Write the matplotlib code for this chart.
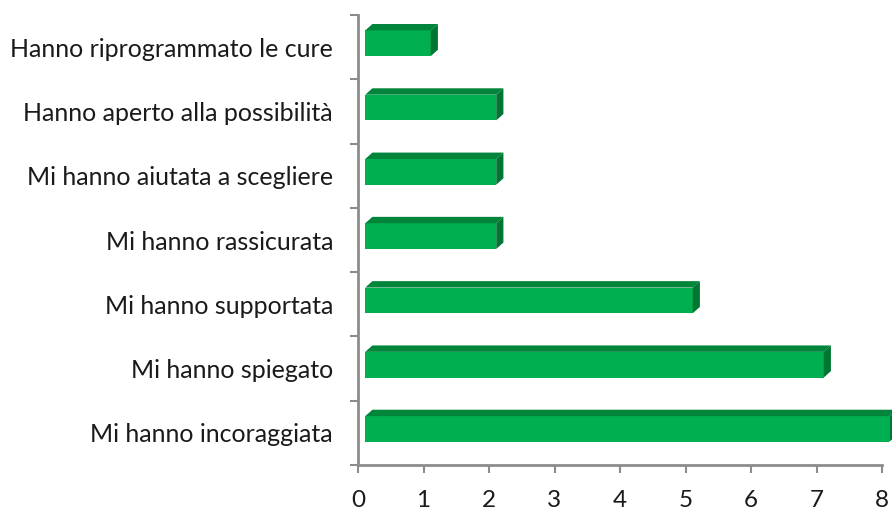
import matplotlib

matplotlib.use("Agg")
import matplotlib.pyplot as plt
from matplotlib.patches import Polygon

# data, top to bottom as in the chart
labels = [
    "Hanno riprogrammato le cure",
    "Hanno aperto alla possibilità",
    "Mi hanno aiutata a scegliere",
    "Mi hanno rassicurata",
    "Mi hanno supportata",
    "Mi hanno spiegato",
    "Mi hanno incoraggiata",
]
values = [1, 2, 2, 2, 5, 7, 8]

# pseudo-3D bar geometry (data units)
DX = 0.11      # horizontal offset of front face / depth
DY = 0.10      # vertical depth
Y0, Y1 = -0.14, 0.26   # front face span relative to category centre

FRONT = "#00b050"
TOP = "#00853b"
SIDE = "#007632"
AXIS = "#8c8c8c"

plt.rcParams["font.family"] = ["Lato", "DejaVu Sans"]

fig = plt.figure(figsize=(8.92, 5.12), dpi=100)
ax = fig.add_axes([358 / 892, 1 - 465 / 512, (882 - 358) / 892, (465 - 15) / 512])

n = len(labels)
for i, (lab, v) in enumerate(zip(labels[::-1], values[::-1])):
    y0, y1 = i + Y0, i + Y1
    x0, x1 = DX, v + DX
    front = Polygon([(x0, y0), (x1, y0), (x1, y1), (x0, y1)],
                    closed=True, fc=FRONT, ec="none", clip_on=False, zorder=3)
    top = Polygon([(x0, y1), (x1, y1), (x1 + DX, y1 + DY), (x0 + DX, y1 + DY)],
                  closed=True, fc=TOP, ec="none", clip_on=False, zorder=3)
    side = Polygon([(x1, y0), (x1 + DX, y0 + DY), (x1 + DX, y1 + DY), (x1, y1)],
                   closed=True, fc=SIDE, ec="none", clip_on=False, zorder=3)
    for p in (front, top, side):
        ax.add_patch(p)

ax.set_xlim(0, 8)
ax.set_ylim(-0.5, n - 0.5)
ax.set_xticks(range(0, 9))
ax.set_yticks([i - 0.5 for i in range(n + 1)], minor=False)
ax.set_yticklabels([])
ax.set_yticks(range(n), minor=True)
ax.set_yticklabels(labels[::-1], minor=True)

for s in ("top", "right"):
    ax.spines[s].set_visible(False)
for s in ("left", "bottom"):
    ax.spines[s].set_color(AXIS)
    ax.spines[s].set_linewidth(2)

ax.tick_params(axis="both", which="major", direction="out", length=6, width=1.5,
               color=AXIS, labelsize=17.5, labelcolor="#1a1a1a")
ax.tick_params(axis="x", pad=12)
ax.tick_params(axis="y", which="minor", length=0, pad=18, labelsize=18,
               labelcolor="#1a1a1a")

fig.savefig("out.png", dpi=100)
